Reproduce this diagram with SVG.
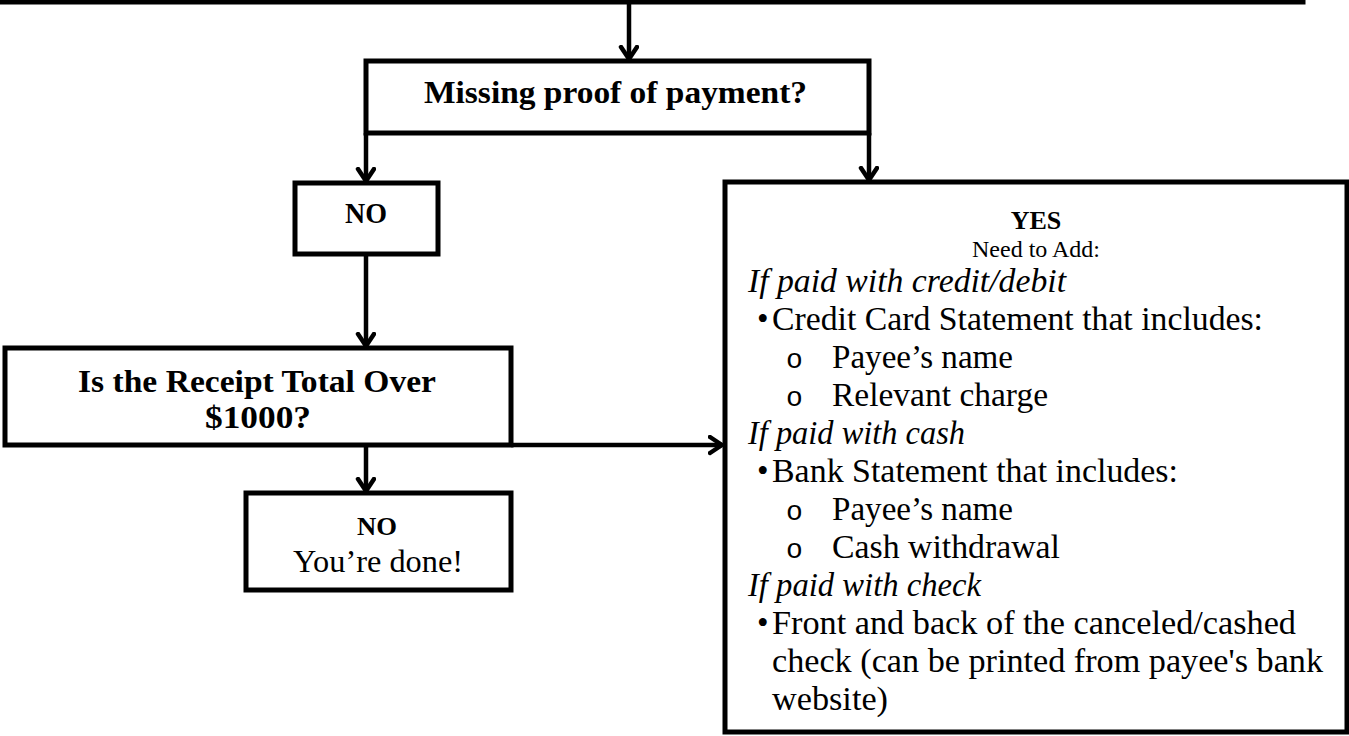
<svg xmlns="http://www.w3.org/2000/svg" width="1349" height="736" viewBox="0 0 1349 736">
<style>
.box{fill:#fff;stroke:#000;stroke-width:5;stroke-linejoin:miter}
.con{fill:none;stroke:#000;stroke-width:4.5}
text{font-family:"Liberation Serif","Times New Roman",serif;fill:#000}
.b{font-weight:bold}
.i{font-style:italic}
.body{font-size:33px}
.mono{font-family:"Liberation Mono","Courier New",monospace;font-size:28px}
</style>
<defs>
<marker id="ah" markerUnits="userSpaceOnUse" markerWidth="20" markerHeight="24" refX="14" refY="10" orient="auto" viewBox="0 0 20 24">
<path d="M2,2 L14,10 L2,18" fill="none" stroke="#000" stroke-width="4.5" stroke-linecap="round" stroke-linejoin="round"/>
</marker>
</defs>
<g id="top-box">
<rect class="box" x="-10" y="-60" width="1313" height="62"/>
</g>
<g id="missing">
<rect class="box" x="366" y="61" width="503" height="72"/>
<text class="b" x="424" y="103" font-size="31" textLength="383" lengthAdjust="spacingAndGlyphs">Missing proof of payment?</text>
</g>
<g id="no1">
<rect class="box" x="295" y="183" width="143" height="71"/>
<text class="b" x="345" y="223" font-size="30" textLength="42" lengthAdjust="spacingAndGlyphs">NO</text>
</g>
<g id="receipt">
<rect class="box" x="5" y="348" width="506" height="97"/>
<text class="b" x="78" y="392" font-size="32" textLength="358" lengthAdjust="spacingAndGlyphs">Is the Receipt Total Over</text>
<text class="b" x="205" y="428" font-size="32" textLength="106" lengthAdjust="spacingAndGlyphs">$1000?</text>
</g>
<g id="no2">
<rect class="box" x="246" y="493" width="265" height="97"/>
<text class="b" x="357" y="535" font-size="26" textLength="40" lengthAdjust="spacingAndGlyphs">NO</text>
<text x="293" y="572" font-size="31" textLength="170" lengthAdjust="spacingAndGlyphs">You’re done!</text>
</g>
<g id="yes">
<rect class="box" x="725" y="182" width="622" height="550"/>
<text class="b" x="1036" y="229" font-size="26" text-anchor="middle">YES</text>
<text x="1036" y="257" font-size="24" text-anchor="middle">Need to Add:</text>
<text class="i body" x="748" y="292" textLength="318" lengthAdjust="spacingAndGlyphs">If paid with credit/debit</text>
<text class="body" x="757" y="330">•</text>
<text class="body" x="772" y="330" textLength="491" lengthAdjust="spacingAndGlyphs">Credit Card Statement that includes:</text>
<text class="mono" x="786" y="368">o</text>
<text class="body" x="832" y="368" textLength="181" lengthAdjust="spacingAndGlyphs">Payee’s name</text>
<text class="mono" x="786" y="406">o</text>
<text class="body" x="832" y="406" textLength="216" lengthAdjust="spacingAndGlyphs">Relevant charge</text>
<text class="i body" x="748" y="444" textLength="217" lengthAdjust="spacingAndGlyphs">If paid with cash</text>
<text class="body" x="757" y="482">•</text>
<text class="body" x="772" y="482" textLength="406" lengthAdjust="spacingAndGlyphs">Bank Statement that includes:</text>
<text class="mono" x="786" y="520">o</text>
<text class="body" x="832" y="520" textLength="181" lengthAdjust="spacingAndGlyphs">Payee’s name</text>
<text class="mono" x="786" y="558">o</text>
<text class="body" x="832" y="558" textLength="228" lengthAdjust="spacingAndGlyphs">Cash withdrawal</text>
<text class="i body" x="748" y="596" textLength="233" lengthAdjust="spacingAndGlyphs">If paid with check</text>
<text class="body" x="757" y="634">•</text>
<text class="body" x="772" y="634" textLength="524" lengthAdjust="spacingAndGlyphs">Front and back of the canceled/cashed</text>
<text class="body" x="772" y="672" textLength="551" lengthAdjust="spacingAndGlyphs">check (can be printed from payee's bank</text>
<text class="body" x="772" y="710" textLength="116" lengthAdjust="spacingAndGlyphs">website)</text>
</g>
<g id="connectors">
<line class="con" x1="629" y1="2" x2="629" y2="59" marker-end="url(#ah)"/>
<line class="con" x1="366" y1="133" x2="366" y2="181" marker-end="url(#ah)"/>
<line class="con" x1="869" y1="133" x2="869" y2="180" marker-end="url(#ah)"/>
<line class="con" x1="366" y1="254" x2="366" y2="346" marker-end="url(#ah)"/>
<line class="con" x1="366" y1="445" x2="366" y2="491" marker-end="url(#ah)"/>
<line class="con" x1="511" y1="445" x2="722" y2="445" marker-end="url(#ah)"/>
</g>
</svg>
